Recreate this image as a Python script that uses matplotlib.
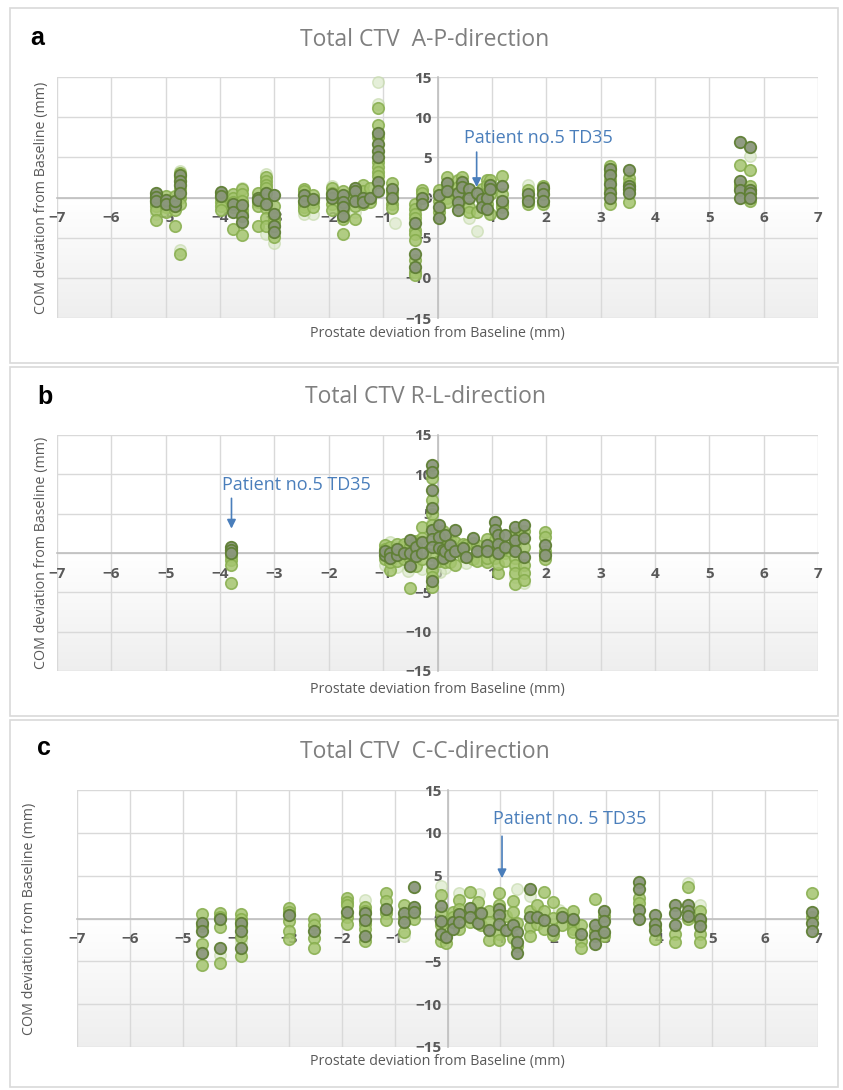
import numpy as np
import matplotlib
matplotlib.use("Agg")
import matplotlib.pyplot as plt
from matplotlib.patches import Rectangle

W, H = 843, 1090

# ---------------- panel a : A-P direction ----------------
a_x = [-5.17, -5.0, -4.83, -4.74, -3.98, -3.76, -3.6, -3.3, -3.15, -3.0,
       -2.46, -2.29, -1.95, -1.74, -1.52, -1.37, -1.24, -1.1, -0.84, -0.41,
       -0.29, 0.02, 0.17, 0.38, 0.45, 0.58, 0.72, 0.82, 0.91, 0.97,
       1.18, 1.67, 1.95, 3.18, 3.53, 5.57, 5.75]
a_dark = [[0.6, 0.1, -0.4], [-0.3, -0.8], [-1.0, -0.4], [2.8, 2.0, 1.5, 0.5],
          [0.7, 0.2], [-0.75, -1.8], [-0.9, -2.3, -3.0], [0.0, -0.3], [0.6, -0.8],
          [0.3, -2.0, -3.6, -4.3], [0.3, -0.4], [-0.2], [0.0, 0.4],
          [0.3, -0.5, -1.2, -2.3], [1.2, 0.8, -0.4], [0.0, -0.6], [0.0],
          [8.0, 6.7, 5.85, 5.0, 1.9, 0.75], [1.0, 0.0], [-3.2, -7.0, -8.7],
          [0.0, -0.8], [-1.2, -2.6, 0.3], [1.8, 0.8], [0.6, -0.6, -1.6], [1.9, 1.3],
          [1.0, 0.0], [0.6], [-0.2, -1.2], [0.0, -1.4], [1.6, 1.0],
          [1.4, -0.4, -1.9], [0.4, -0.4], [1.2, 0.4, -0.4],
          [3.6, 2.8, 1.7, 0.6, 0.0], [3.4, 1.4, 1.0, 0.6], [6.9, 2.1, 0.9, 0.0],
          [6.3, 0.9, 0.5, 0.0]]
a_mid = [[0.3, -0.3, -0.7, -1.0, -1.5, -2.8], [0.2, -0.5, -1.2, -1.8], [0.2, -0.5, -1.5, -3.5],
         [3.0, 2.5, 1.0, 0.0, -0.8, -7.0], [0.5, 0.0, -0.5, -1.0, -1.5],
         [0.4, 0.0, -0.5, -1.2, -3.9], [1.1, 0.4, -0.4, -1.5, -2.0, -4.7],
         [0.5, -0.6, -1.0, -3.6], [2.6, 2.1, 1.6, 1.2, -0.3, -1.3, -2.5, -3.6],
         [-1.0, -2.5, -3.0, -4.9], [1.0, 0.8, -0.8, -1.2, -1.6], [0.3, -0.6, -1.2],
         [1.2, 0.6, -0.8, -1.5], [0.8, -0.9, -1.6, -2.7, -4.5], [0.4, -1.0, -2.7],
         [1.6, 0.8, -0.8], [1.2, -0.6], [11.1, 9.0, 7.5, 4.4, 3.8, 3.2, 2.7],
         [1.8, 0.5, -0.8, -1.3], [-0.8, -1.4, -2.0, -2.6, -4.0, -4.5, -5.3, -7.8, -9.3, -9.6],
         [0.9, 0.5], [0.9, -0.4, -1.8], [2.6, 1.3, 0.0, -0.6], [2.2, 1.3], [2.6], [-1.2, -1.8],
         [-1.8], [0.4, 1.1], [2.2, 1.6, -0.8], [2.2, 0.4, -2.1], [2.7, 0.4, -0.8, -1.2],
         [0.9, 0.0, -0.8], [1.4, 0.8, -0.8], [3.9, 3.2, 2.2, 1.1, -0.8], [2.4, 1.8, -0.5],
         [4.0, 1.6, 1.3], [3.4, 1.4, -0.4]]
a_light_x = [-5.17, -4.74, -4.74, -3.76, -3.6, -3.15, -3.15, -3.0, -2.46, -2.29,
             -1.95, -1.74, -1.52, -1.1, -1.1, -0.78, 0.38, 0.58, 0.72, 1.67, 5.75]
a_light_y = [-2.0, 3.3, -6.5, -1.2, 1.2, 2.9, -4.5, -5.7, -2.1, -2.0,
             1.4, -2.3, -1.8, 14.4, 11.7, -3.2, -1.0, -2.5, -4.2, 1.6, 5.2]

# ---------------- panel b : R-L direction ----------------
b_x = [-3.79, -0.97, -0.87, -0.75, -0.62, -0.51, -0.4, -0.29, -0.1, 0.02,
       0.1, 0.14, 0.23, 0.32, 0.47, 0.52, 0.65, 0.72, 0.91, 1.06,
       1.12, 1.24, 1.43, 1.59, 1.98]
b_dark = [[0.8, 0.4, 0.0], [-0.3, 0.3], [0.0, -0.6], [-0.2, 0.5], [0.0],
          [1.6, 0.0, -1.7], [0.8, -0.4], [1.4, 0.0],
          [11.2, 10.3, 8.0, 5.7, 2.9, 1.8, 0.8, -1.3, -3.6], [3.6, 2.0, 0.6],
          [0.4, -0.6], [2.3, 0.2], [1.0, -0.2], [2.9, 0.3], [0.6], [-0.5], [1.9],
          [0.2], [1.0, 0.2], [4.0, 2.9], [2.3, 1.1, 0.0], [2.3, 0.8],
          [3.3, 1.7, 0.2], [3.6, 1.9, -0.5], [1.0, -0.3]]
b_mid = [[-0.4, -0.9, -1.5, -3.85], [1.0, -0.8, 0.5], [-2.2, 0.8, -1.2], [1.2, -1.0],
         [0.8, -0.8, 1.2], [-4.5, -0.8, 0.9], [1.5, -1.6, 0.3], [3.3, -0.8, 1.9],
         [9.5, 6.7, 5.0, 3.6, -0.3, -2.2, -3.0, -4.3], [1.2, -1.0], [2.8, 1.4], [-1.2, 1.1],
         [1.6, -1.1], [-1.5, 1.4], [-0.4, 1.2], [1.0], [1.3, -0.7], [1.0, -1.0],
         [-1.2, 1.8, -0.6], [0.5, -0.6, 1.6], [-2.5, -1.4], [0.0, 0.6, -1.0],
         [2.6, 1.0, -0.6, -1.5, -2.6, -3.9], [2.8, 0.8, -1.5, -2.6, -3.4],
         [2.7, 2.0, 0.3, -0.8]]
b_light_x = [-0.97, -0.87, -0.75, -0.68, -0.4, -0.29, -0.1, 0.14, 0.32, 0.52,
             0.8, 1.43, 1.43, 1.59, 1.59, -0.55, 0.05]
b_light_y = [-1.5, 1.4, -1.8, 0.9, -1.0, -2.0, 3.8, -1.9, 1.2, -1.3,
             -0.9, -2.0, -3.0, -2.4, -3.8, -2.3, -2.4]

# ---------------- panel c : C-C direction ----------------
c_x = [-4.64, -4.3, -3.9, -3.0, -2.52, -1.9, -1.55, -1.17, -0.83, -0.63,
       -0.13, -0.03, 0.1, 0.22, 0.43, 0.57, 0.63, 0.79, 0.98, 1.1,
       1.23, 1.32, 1.56, 1.7, 1.83, 1.99, 2.16, 2.38, 2.52, 2.79,
       2.96, 3.61, 3.92, 4.3, 4.55, 4.78, 6.89]
c_dark = [[-0.5, -1.5, -4.0], [-0.1, -3.5], [-0.5, -1.5, -3.5], [0.4], [-1.5],
          [0.8], [0.6, -0.2, -2.0], [1.1], [0.6, -0.4], [3.7, 1.4, 0.8],
          [1.5, -0.3, -1.8], [-2.2], [-0.4, -1.2], [0.5, -0.4], [1.2, 0.2], [-0.5],
          [0.6], [-1.3], [1.1, 0.4, -0.7], [-1.4], [-0.8], [-1.6, -2.7, -4.0],
          [3.5, 0.2], [0.2], [-0.2], [-1.3], [0.2], [-0.1], [-1.8],
          [-0.8, -2.1, -3.0], [0.9, -0.3, -1.6], [4.3, 3.5, 1.0, 0.0],
          [0.4, -0.6, -1.4], [1.6, 0.6, -0.8], [1.6, 0.9, 0.3], [0.0, -0.9],
          [0.8, -0.5, -1.5]]
c_mid = [[0.5, -0.9, -3.0, -5.4], [0.6, 0.2, -1.0, -5.2], [0.5, 0.0, -0.9, -2.2, -4.4],
         [1.2, 0.8, -0.3, -1.5, -2.4], [0.0, -0.8, -2.3, -3.5], [2.4, 1.9, 1.6, 0.2, -0.7],
         [1.4, 0.9, -0.6, -1.2, -2.6], [3.0, 2.1, 0.6, -0.2], [1.6, 0.1, -1.6], [0.0, 1.1],
         [2.8, 0.6, -0.8, -2.6], [-2.9], [0.8, 0.2], [2.2, 1.1, -1.2], [3.1, -0.4], [1.9, 0.7],
         [-0.8], [0.9, -0.4, -2.5], [3.0, 1.6, -1.8, -2.5], [0.3], [2.0, 0.8, -2.3], [-3.2, -0.5],
         [0.9, -1.0, -2.0], [1.6, -0.6], [3.1, 0.9, -1.2], [1.9, 0.1, -1.9], [-0.8, 0.6],
         [0.9, -0.6, -1.2, -1.6], [-0.8, -2.6, -3.5], [2.3, -1.5], [-2.1, 0.3],
         [2.4, 1.8], [-0.9, -2.4], [-1.8, -2.7], [3.7, 0.0], [0.9, -0.3, -1.8, -2.7],
         [3.0, 0.2]]
c_light_x = [-4.3, -3.9, -1.55, -0.83, -0.13, 0.22, 1.32, 1.56, 4.55, 4.78, 0.6, 2.1]
c_light_y = [-4.3, -2.8, 2.2, -2.0, 3.8, 3.0, 3.4, 2.6, 4.1, 1.6, 2.9, 1.0]

xticks = list(range(-7, 8))
yticks = [-15, -10, -5, 0, 5, 10, 15]

titles = ["Total CTV  A-P-direction", "Total CTV R-L-direction", "Total CTV  C-C-direction"]
letters = ["a", "b", "c"]
note_a = "Patient no.5 TD35"
note_b = "Patient no.5 TD35"
note_c = "Patient no. 5 TD35"

GRAY_TXT = "#595959"
BLUE = "#4a7ebb"


def expand(xs, cols):
    px, py = [], []
    for x, ys in zip(xs, cols):
        px += [x] * len(ys)
        py += ys
    return px, py


def fx(x):
    return x / W


def fy(y):
    return 1 - y / H


fig = plt.figure(figsize=(W / 100, H / 100), dpi=100)

# panel frames (pixel boxes)
boxes = [(10, 8, 838, 363), (10, 367, 838, 716), (10, 720, 838, 1087)]
for x0, y0, x1, y1 in boxes:
    fig.patches.append(Rectangle((fx(x0), fy(y1)), fx(x1 - x0), (y1 - y0) / H,
                                 transform=fig.transFigure, fill=False,
                                 edgecolor="#d9d9d9", lw=1.2))

# plot areas in pixels: left, right, top, bottom
areas = [(57, 818, 77, 318), (57, 818, 435, 671), (77, 818, 790, 1047)]
data = [(a_x, a_dark, a_mid, a_light_x, a_light_y),
        (b_x, b_dark, b_mid, b_light_x, b_light_y),
        (c_x, c_dark, c_mid, c_light_x, c_light_y)]
notes = [(note_a, 1.85, 7.35, 0.72, 5.65, 1.3),
         (note_b, -2.59, 8.64, -3.79, 6.95, 3.1),
         (note_c, 2.3, 11.6, 1.03, 9.6, 4.7)]
title_y = [40, 397, 752]
letter_pos = [(37, 38), (45, 397), (44, 748)]
ylab_x = [42, 42, 30]
xlab_y = [333, 690, 1062]

grad = np.linspace(1.0, 0.935, 100).reshape(-1, 1)
grad = np.dstack([grad, grad, grad])

for i in range(3):
    l, r, t, b = areas[i]
    ax = fig.add_axes([fx(l), fy(b), (r - l) / W, (b - t) / H])
    ax.set_xlim(-7, 7)
    ax.set_ylim(-15, 15)
    ax.imshow(grad, extent=[-7, 7, -15, 0], aspect="auto", zorder=0,
              interpolation="bilinear")
    ax.set_xticks(xticks)
    ax.set_yticks(yticks)
    ax.grid(True, color="#d9d9d9", lw=1.0, zorder=1)
    ax.set_axisbelow(True)
    for s in ["top", "right"]:
        ax.spines[s].set_visible(False)
    ax.spines["left"].set_position("zero")
    ax.spines["bottom"].set_position("zero")
    ax.spines["left"].set_color("#bfbfbf")
    ax.spines["bottom"].set_color("#bfbfbf")
    ax.spines["left"].set_linewidth(1.2)
    ax.spines["bottom"].set_linewidth(1.2)
    ax.tick_params(length=0, labelsize=11, labelcolor=GRAY_TXT)
    ax.tick_params(axis="x", pad=10)
    ax.tick_params(axis="y", pad=4)
    for lab in ax.get_xticklabels() + ax.get_yticklabels():
        lab.set_fontweight("bold")
        lab.set_family("Open Sans")

    xs, dark, mid, lx, ly = data[i]
    ax.scatter(lx, ly, s=68, facecolor="#d5e5c0", edgecolor="#c2d8a6",
               lw=1.1, alpha=0.6, zorder=3, clip_on=False)
    mx, my = expand(xs, mid)
    ax.scatter(mx, my, s=68, facecolor="#a4c46e", edgecolor="#86ad4c",
               lw=1.2, alpha=0.85, zorder=4, clip_on=False)
    dx, dy = expand(xs, dark)
    ax.scatter(dx, dy, s=68, facecolor="#8b977c", edgecolor="#5f7f34",
               lw=1.3, alpha=0.95, zorder=5, clip_on=False)

    txt, tx, ty, ax_x, ay0, ay1 = notes[i]
    ax.text(tx, ty, txt, color=BLUE, fontsize=13, family="Open Sans",
            ha="center", va="center", zorder=6)
    ax.annotate("", xy=(ax_x, ay1), xytext=(ax_x, ay0), zorder=6,
                arrowprops=dict(arrowstyle="-|>", color=BLUE, lw=1.2,
                                mutation_scale=13, shrinkA=0, shrinkB=0))

    fig.text(fx(425), fy(title_y[i]), titles[i], color="#7f7f7f", fontsize=16.5,
             family="Open Sans", ha="center", va="center")
    fig.text(fx(letter_pos[i][0]), fy(letter_pos[i][1]), letters[i], color="black",
             fontsize=18, fontweight="bold", family="Liberation Sans",
             ha="center", va="center")
    fig.text(fx(ylab_x[i]), fy((t + b) / 2), "COM deviation from Baseline (mm)",
             color=GRAY_TXT, fontsize=10.3, family="Open Sans", rotation=90,
             ha="center", va="center")
    fig.text(fx(437), fy(xlab_y[i]), "Prostate deviation from Baseline (mm)",
             color=GRAY_TXT, fontsize=10.3, family="Open Sans",
             ha="center", va="center")

fig.savefig("out.png", dpi=100, facecolor="white")
